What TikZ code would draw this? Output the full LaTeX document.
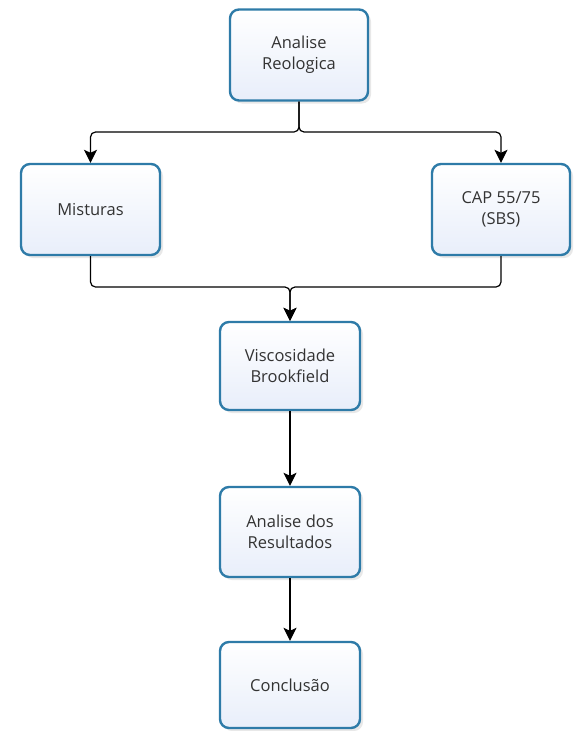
\documentclass[tikz,border=0pt]{standalone}
\usepackage{fontspec}
\setmainfont{Open Sans}
\usetikzlibrary{arrows.meta,shadows}
\definecolor{boxborder}{HTML}{2E7BA8}
\definecolor{boxfill}{HTML}{E8EEFA}
\definecolor{txt}{HTML}{333333}
\begin{document}
\begin{tikzpicture}[x=1pt,y=-1pt,
  box/.style={draw=boxborder, line width=2.4pt, rounded corners=9pt,
    top color=white, bottom color=boxfill, align=center, text=txt,
    font=\fontsize{16.5}{21}\selectfont, inner sep=0pt,
    drop shadow={opacity=0.18, shadow xshift=3pt, shadow yshift=-3pt}},
  conn/.style={draw=black, line width=1.2pt, rounded corners=5pt,
    -{Stealth[length=13pt,width=13pt,inset=3pt]}}]
\useasboundingbox (0,0) rectangle (574,731);
\node[box, minimum width=138pt, minimum height=91pt] (top) at (299,55) {Analise\\Reologica};
\node[box, minimum width=139pt, minimum height=91pt] (mis) at (90.5,209.5) {Misturas};
\node[box, minimum width=138pt, minimum height=91pt] (cap) at (501,209.5) {CAP 55/75\\(SBS)};
\node[box, minimum width=140pt, minimum height=88pt] (visc) at (290,366) {Viscosidade\\Brookfield};
\node[box, minimum width=140pt, minimum height=90pt] (res) at (290,532) {Analise dos\\Resultados};
\node[box, minimum width=140pt, minimum height=86pt] (conc) at (290,685) {Conclusão};
\coordinate (j1) at (299,132);
\coordinate (j2) at (290,287);
\draw[conn] (top.south) -- (j1) -| (mis.north);
\draw[conn] (top.south) -- (j1) -| (cap.north);
\draw[conn] (mis.south) |- (j2) -- (visc.north);
\draw[conn] (cap.south) |- (j2) -- (visc.north);
\draw[conn] (visc.south) -- (res.north);
\draw[conn] (res.south) -- (conc.north);
\end{tikzpicture}
\end{document}
